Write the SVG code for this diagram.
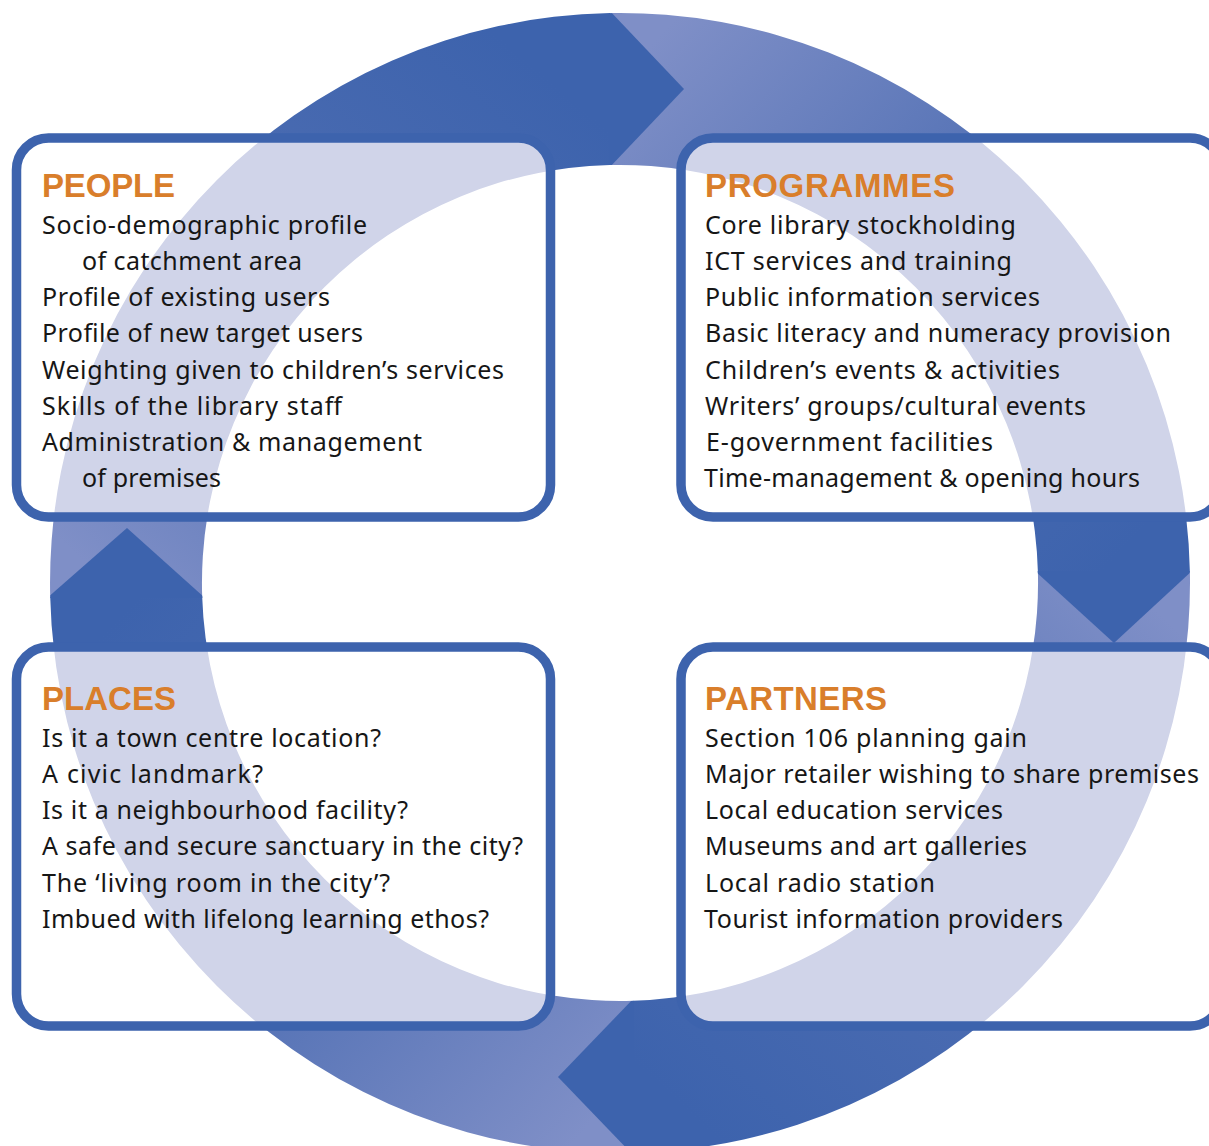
<svg xmlns="http://www.w3.org/2000/svg" width="1209" height="1146" viewBox="0 0 1209 1146">
<style>
.box{fill:none;stroke:#3d63ad;stroke-width:9.5}
.boxfill{fill:#ffffff}
.h{font-family:"Liberation Sans",Arial,sans-serif;font-weight:bold;font-size:33px;fill:#d97e2b;letter-spacing:1px}
.t{font-family:"Noto Sans","Open Sans",sans-serif;font-size:25px;fill:#161616}
.tri{fill:#3d63ad}
</style>
<defs>
<linearGradient id="gA" gradientUnits="userSpaceOnUse" x1="126" y1="597" x2="560" y2="89">
<stop offset="0" stop-color="#7f8fc7"/><stop offset="0.6" stop-color="#4a6bb1"/><stop offset="1" stop-color="#3d63ad"/>
</linearGradient>
<linearGradient id="gB" gradientUnits="userSpaceOnUse" x1="610" y1="89" x2="1114" y2="560">
<stop offset="0" stop-color="#7f8fc7"/><stop offset="0.6" stop-color="#4a6bb1"/><stop offset="1" stop-color="#3d63ad"/>
</linearGradient>
<linearGradient id="gC" gradientUnits="userSpaceOnUse" x1="1114" y1="572" x2="650" y2="1077">
<stop offset="0" stop-color="#7f8fc7"/><stop offset="0.6" stop-color="#4a6bb1"/><stop offset="1" stop-color="#3d63ad"/>
</linearGradient>
<linearGradient id="gD" gradientUnits="userSpaceOnUse" x1="633" y1="1077" x2="126" y2="610">
<stop offset="0" stop-color="#7f8fc7"/><stop offset="0.6" stop-color="#4a6bb1"/><stop offset="1" stop-color="#3d63ad"/>
</linearGradient>
<clipPath id="ringClip">
<path d="M50 583 A570 570 0 1 1 1190 583 A570 570 0 1 1 50 583 Z M202 583 A418 418 0 1 0 1038 583 A418 418 0 1 0 202 583 Z" clip-rule="evenodd"/>
</clipPath>
<clipPath id="boxClip">
<rect x="16.5" y="138" width="534" height="379" rx="32"/>
<rect x="681" y="138" width="541" height="379" rx="32"/>
<rect x="16.5" y="647" width="534" height="379" rx="32"/>
<rect x="681" y="647" width="541" height="379" rx="32"/>
</clipPath>
</defs>

<rect width="1209" height="1146" fill="#ffffff"/>

<g id="connectors">
<path fill="url(#gA)" d="M50.2 597 A570 570 0 0 1 610 13.1 L610 165.1 A418 418 0 0 0 202.2 597 Z"/>
<path fill="url(#gB)" d="M610 13.1 A570 570 0 0 1 1189.9 572 L1037.9 572 A418 418 0 0 0 610 165.1 Z"/>
<path fill="url(#gC)" d="M1189.9 572 A570 570 0 0 1 633 1152.85 L633 1000.8 A418 418 0 0 0 1037.9 572 Z"/>
<path fill="url(#gD)" d="M633 1152.85 A570 570 0 0 1 50.2 597 L202.2 597 A418 418 0 0 0 633 1000.8 Z"/>
<g clip-path="url(#ringClip)">
<polygon class="tri" points="609,10 684,89 609,168"/>
<polygon class="tri" points="1192,571 1114,643 1035,571"/>
<polygon class="tri" points="634,1156 558,1077 634,998"/>
<polygon class="tri" points="47,598 127,528 205,598"/>
</g>
</g>

<g id="box-fills">
<rect class="boxfill" x="16.5" y="138" width="534" height="379" rx="32"/>
<rect class="boxfill" x="681" y="138" width="541" height="379" rx="32"/>
<rect class="boxfill" x="16.5" y="647" width="534" height="379" rx="32"/>
<rect class="boxfill" x="681" y="647" width="541" height="379" rx="32"/>
<path clip-path="url(#boxClip)" fill="#d0d4e9" fill-rule="evenodd" d="M50 583 A570 570 0 1 1 1190 583 A570 570 0 1 1 50 583 Z M202 583 A418 418 0 1 0 1038 583 A418 418 0 1 0 202 583 Z"/>
</g>

<g id="people">
<rect class="box" x="16.5" y="138" width="534" height="379" rx="32"/>
<text class="h" x="42" y="197" textLength="134">PEOPLE</text>
<text class="t" x="42" y="234" textLength="325">Socio-demographic profile</text>
<text class="t" x="82" y="270" textLength="220">of catchment area</text>
<text class="t" x="42" y="306" textLength="288">Profile of existing users</text>
<text class="t" x="42" y="342" textLength="321">Profile of new target users</text>
<text class="t" x="42" y="379" textLength="462">Weighting given to children’s services</text>
<text class="t" x="42" y="415" textLength="300">Skills of the library staff</text>
<text class="t" x="42" y="451" textLength="380">Administration &amp; management</text>
<text class="t" x="82" y="487" textLength="139">of premises</text>
</g>

<g id="programmes">
<rect class="box" x="681" y="138" width="541" height="379" rx="32"/>
<text class="h" x="705" y="197" textLength="251">PROGRAMMES</text>
<text class="t" x="705" y="234" textLength="311">Core library stockholding</text>
<text class="t" x="705" y="270" textLength="307">ICT services and training</text>
<text class="t" x="705" y="306" textLength="335">Public information services</text>
<text class="t" x="705" y="342" textLength="466">Basic literacy and numeracy provision</text>
<text class="t" x="705" y="379" textLength="355">Children’s events &amp; activities</text>
<text class="t" x="705" y="415" textLength="381">Writers’ groups/cultural events</text>
<text class="t" x="706" y="451" textLength="287">E-government facilities</text>
<text class="t" x="704" y="487" textLength="436">Time-management &amp; opening hours</text>
</g>

<g id="places">
<rect class="box" x="16.5" y="647" width="534" height="379" rx="32"/>
<text class="h" x="42" y="710" textLength="135">PLACES</text>
<text class="t" x="42" y="747" textLength="339">Is it a town centre location?</text>
<text class="t" x="42" y="783" textLength="221">A civic landmark?</text>
<text class="t" x="42" y="819" textLength="366">Is it a neighbourhood facility?</text>
<text class="t" x="42" y="855" textLength="481">A safe and secure sanctuary in the city?</text>
<text class="t" x="42" y="892" textLength="348">The ‘living room in the city’?</text>
<text class="t" x="42" y="928" textLength="447">Imbued with lifelong learning ethos?</text>
</g>

<g id="partners">
<rect class="box" x="681" y="647" width="541" height="379" rx="32"/>
<text class="h" x="705" y="710" textLength="183">PARTNERS</text>
<text class="t" x="705" y="747" textLength="322">Section 106 planning gain</text>
<text class="t" x="705" y="783" textLength="494">Major retailer wishing to share premises</text>
<text class="t" x="705" y="819" textLength="298">Local education services</text>
<text class="t" x="705" y="855" textLength="322">Museums and art galleries</text>
<text class="t" x="705" y="892" textLength="230">Local radio station</text>
<text class="t" x="704" y="928" textLength="359">Tourist information providers</text>
</g>
</svg>
